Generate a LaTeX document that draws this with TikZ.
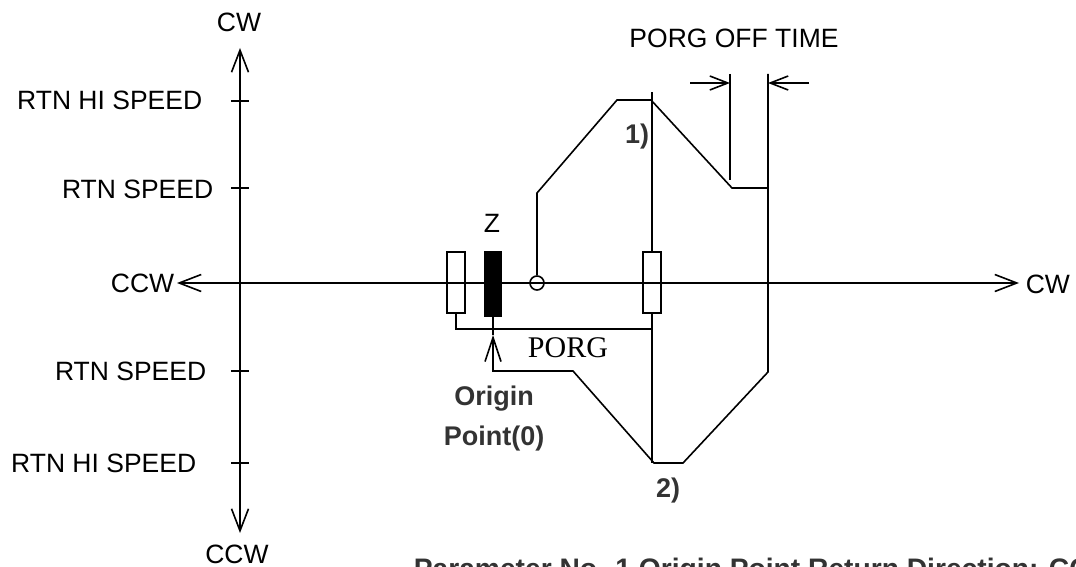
\documentclass[tikz,border=0pt]{standalone}
\usepackage{fontspec}
\setmainfont{Liberation Sans}
\newfontfamily\porgserif{Liberation Serif}
\usetikzlibrary{arrows.meta}
\definecolor{labgray}{HTML}{333333}
\begin{document}
\begin{tikzpicture}[x=1pt,y=-1pt,line width=1.6pt,
  lab/.style={inner sep=0pt,font=\fontsize{26.5}{30}\selectfont},
  boldlab/.style={inner sep=0pt,text=labgray,font=\fontsize{27}{30}\selectfont\bfseries},
  axistip/.tip={Straight Barb[length=22pt,width=17pt]},
  dimtip/.tip={Straight Barb[length=18pt,width=14pt]},
  origtip/.tip={Straight Barb[length=24pt,width=16pt]},
  sensor/.style={draw,inner sep=0pt,minimum width=18pt,minimum height=61pt},
  tick/.style={line width=1.6pt}]
\useasboundingbox (0,0) rectangle (1076,567);
\clip (0,0) rectangle (1076,567);
% axes
\coordinate (vtop) at (240,48);
\coordinate (vbot) at (240,533);
\coordinate (hl) at (177,283);
\coordinate (hr) at (1019,283);
\draw[axistip-axistip] (vbot) -- (vtop);
\draw[axistip-axistip] (hl) -- (hr);
\foreach \y/\n in {101/t1,188/t2,371/t3,463/t4}{
  \coordinate (\n a) at (231,\y);
  \coordinate (\n b) at (249,\y);
  \draw[tick] (\n a) -- (\n b);
}
% axis labels
\node[lab,anchor=base] (cwtop) at (239,32) {CW};
\node[lab,anchor=base] (ccwbot) at (237,563) {CCW};
\node[lab,anchor=base east] (ccwl) at (175,292) {CCW};
\node[lab,anchor=base west] (cwr) at (1025,293) {CW};
\node[lab,anchor=base east] (l1) at (203,110) {RTN HI SPEED};
\node[lab,anchor=base east] (l2) at (214,198) {RTN SPEED};
\node[lab,anchor=base east] (l3) at (207,380) {RTN SPEED};
\node[lab,anchor=base east] (l4) at (197,472) {RTN HI SPEED};
% sensors
\node[sensor] (lrect) at (456,282.5) {};
\node[draw,fill=black,inner sep=0pt,minimum width=16pt,minimum height=64pt] (zrect) at (493,284) {};
\node[sensor] (rrect) at (652,282.5) {};
\node[draw,circle,inner sep=0pt,minimum size=14pt] (circ) at (537,283) {};
\node[lab,anchor=base] (zlab) at (492,232) {Z};
% PORG signal
\coordinate (pl) at (456,329);
\coordinate (pr) at (652,329);
\draw (lrect.south) -- (pl) -- (pr);
\node[inner sep=0pt,anchor=base,font=\fontsize{30}{32}\selectfont\porgserif] (porg) at (568,357) {PORG};
% right sensor verticals
\coordinate (rtop) at (652,92);
\coordinate (rbot) at (652,463);
\draw (rrect.north) -- (rtop);
\draw (rrect.south) -- (rbot);
% CW profile
\coordinate (a1) at (537,193);
\coordinate (a2) at (617,100);
\coordinate (a3) at (651,100);
\coordinate (a4) at (732,188);
\coordinate (a5) at (768,188);
\draw (circ.north) -- (a1) -- (a2) -- (a3) -- (a4) -- (a5);
% CCW profile
\coordinate (b0) at (768,74);
\coordinate (b1) at (768,372);
\coordinate (b2) at (683,463);
\coordinate (b3) at (654,463);
\coordinate (b4) at (573,371);
\coordinate (b5) at (493,371);
\coordinate (b6) at (493,335);
\draw[-origtip] (b0) -- (b1) -- (b2) -- (b3) -- (b4) -- (b5) -- (b6);
\draw (b6) -- (zrect.south);
% PORG OFF TIME
\coordinate (d0) at (730,74);
\coordinate (d1) at (730,180);
\draw (d0) -- (d1);
\coordinate (dl) at (690,83);
\coordinate (dla) at (730,83);
\coordinate (dr) at (809,83);
\coordinate (dra) at (768,83);
\draw[-dimtip] (dl) -- (dla);
\draw[-dimtip] (dr) -- (dra);
\node[lab,anchor=base] (offt) at (734,48) {PORG OFF TIME};
% bold labels
\node[boldlab,anchor=base] (n1) at (637,143) {1)};
\node[boldlab,anchor=base] (n2) at (668,497) {2)};
\node[boldlab,anchor=base] (orig1) at (494,405) {Origin};
\node[boldlab,anchor=base] (orig2) at (494,445) {Point(0)};
\node[boldlab,anchor=base west,font=\fontsize{28.2}{32}\selectfont\bfseries] (param) at (413,578.5) {Parameter No. 1 Origin Point Return Direction: CCW};
\end{tikzpicture}
\end{document}
